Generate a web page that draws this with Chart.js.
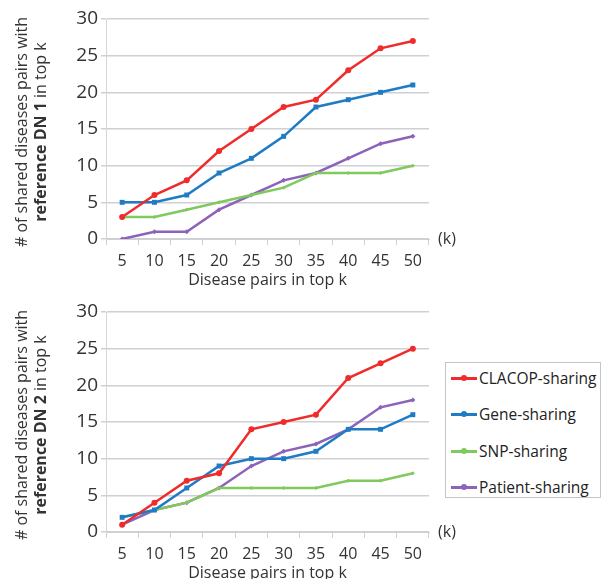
<!DOCTYPE html>
<html>
<head>
<meta charset="utf-8">
<script src="https://cdn.jsdelivr.net/npm/chart.js@4"></script>
<style>
  body { margin: 0; background: #fff; overflow: hidden; width: 606px; height: 579px; position: relative; font-family: "Open Sans", sans-serif; }
  canvas { position: absolute; left: 0; }
  #legenda { position: absolute; left: 445px; top: 362px; width: 156px; height: 136px; border: 1px solid #c4c4c4; box-sizing: border-box; background: #fff; }
  .leg-item { position: absolute; left: 5px; font-size: 15.5px; color: #222; line-height: 18px; white-space: nowrap; }
  .leg-line { display: inline-block; width: 26px; height: 3px; vertical-align: middle; position: relative; margin-right: 2px; top: -1px; }
  .leg-dot { position: absolute; left: 10px; top: -2px; width: 6px; height: 6px; border-radius: 3px; }
</style>
</head>
<body>
<canvas id="grafico-dn1" width="470" height="290" style="top:0"></canvas>
<canvas id="grafico-dn2" width="470" height="293" style="top:290px"></canvas>
<div id="legenda"></div>
<script>
// categorias do eixo x (top k)
const topK = ['5', '10', '15', '20', '25', '30', '35', '40', '45', '50'];
const seriesNames = ['CLACOP-sharing', 'Gene-sharing', 'SNP-sharing', 'Patient-sharing'];

// reference DN 1
const dn1Clacop  = [3, 6, 8, 12, 15, 18, 19, 23, 26, 27];
const dn1Gene    = [5, 5, 6, 9, 11, 14, 18, 19, 20, 21];
const dn1Snp     = [3, 3, 4, 5, 6, 7, 9, 9, 9, 10];
const dn1Patient = [0, 1, 1, 4, 6, 8, 9, 11, 13, 14];

// reference DN 2
const dn2Clacop  = [1, 4, 7, 8, 14, 15, 16, 21, 23, 25];
const dn2Gene    = [2, 3, 6, 9, 10, 10, 11, 14, 14, 16];
const dn2Snp     = [2, 3, 4, 6, 6, 6, 6, 7, 7, 8];
const dn2Patient = [1, 3, 4, 6, 9, 11, 12, 14, 17, 18];

const yTicks = [0, 5, 10, 15, 20, 25, 30];

const cores = ['#ef2b2b', '#1f7bc4', '#80c95c', '#8c63b8'];
const estilos = [
    { pointStyle: 'circle', pointRadius: 3 },
    { pointStyle: 'rect', pointRadius: 3.5 },
    { pointStyle: 'rectRot', pointRadius: 2 },
    { pointStyle: 'rectRot', pointRadius: 2.5 }
];
const FONT = '"Open Sans", sans-serif';

// titulo do eixo y em duas linhas (parte em negrito) + "(k)"
const extrasPlugin = {
    id: 'extras',
    afterDraw(chart, args, opts) {
        const ctx = chart.ctx;
        const a = chart.chartArea;
        const cy = (a.top + a.bottom) / 2 + 3;
        ctx.save();
        ctx.fillStyle = '#333';
        ctx.translate(22, cy);
        ctx.rotate(-Math.PI / 2);
        ctx.textBaseline = 'middle';
        ctx.textAlign = 'center';
        ctx.font = '16px ' + FONT;
        ctx.fillText('# of shared diseases pairs with', 0, 0);
        const bold = 'reference DN ' + opts.dn;
        const normal = ' in top k';
        ctx.font = 'bold 16px ' + FONT;
        const wb = ctx.measureText(bold).width;
        ctx.font = '16px ' + FONT;
        const wn = ctx.measureText(normal).width;
        const x0 = -(wb + wn) / 2;
        ctx.textAlign = 'left';
        ctx.font = 'bold 16px ' + FONT;
        ctx.fillText(bold, x0, 19);
        ctx.font = '16px ' + FONT;
        ctx.fillText(normal, x0 + wb, 19);
        ctx.restore();

        ctx.save();
        ctx.fillStyle = '#333';
        ctx.font = '16px ' + FONT;
        ctx.textBaseline = 'middle';
        ctx.textAlign = 'left';
        ctx.fillText('(k)', a.right + 9, a.bottom);
        ctx.restore();
    }
};

function criaGrafico(id, dn, valores, padTop) {
    const ctx = document.getElementById(id).getContext('2d');
    return new Chart(ctx, {
        type: 'line',
        data: {
            labels: topK,
            datasets: valores.map((v, i) => ({
                label: seriesNames[i],
                data: v,
                borderColor: cores[i],
                backgroundColor: cores[i],
                borderWidth: 2.5,
                pointStyle: estilos[i].pointStyle,
                pointRadius: estilos[i].pointRadius,
                pointBorderWidth: 0,
                tension: 0
            }))
        },
        options: {
            responsive: false,
            animation: false,
            layout: { padding: { top: padTop, right: 41, left: 0, bottom: 0 } },
            plugins: {
                legend: { display: false },
                tooltip: { enabled: false },
                extras: { dn: dn }
            },
            scales: {
                x: {
                    offset: true,
                    afterFit: (s) => { s.height = 51; },
                    grid: { offset: true, drawOnChartArea: false, drawTicks: true, tickLength: 6, color: '#d0d0d0' },
                    border: { color: '#d0d0d0' },
                    ticks: { color: '#333', font: { family: FONT, size: 16 }, padding: 7, maxRotation: 0, autoSkip: false },
                    title: {
                        display: true,
                        text: 'Disease pairs in top k',
                        color: '#333',
                        font: { family: FONT, size: 16 },
                        padding: { top: 0, bottom: 0 }
                    }
                },
                y: {
                    min: 0,
                    max: 30,
                    afterFit: (s) => { s.width = 106; },
                    afterBuildTicks: (s) => { s.ticks = yTicks.map(v => ({ value: v })); },
                    grid: { color: '#cfd0d4', lineWidth: 1.5, drawTicks: true, tickLength: 5 },
                    border: { display: true, color: '#d6d6d6' },
                    ticks: { color: '#333', font: { family: FONT, size: 19 }, padding: 3 }
                }
            }
        },
        plugins: [extrasPlugin]
    });
}

criaGrafico('grafico-dn1', 1, [dn1Clacop, dn1Gene, dn1Snp, dn1Patient], 19);
const g2 = criaGrafico('grafico-dn2', 2, [dn2Clacop, dn2Gene, dn2Snp, dn2Patient], 22);

// legenda ao lado do segundo gráfico
const legenda = document.getElementById('legenda');
const legY = [6, 42, 79, 115];
g2.data.datasets.forEach((ds, i) => {
    legenda.innerHTML += `
        <div class="leg-item" style="top:${legY[i]}px">
            <span class="leg-line" style="background:${ds.borderColor}"><span class="leg-dot" style="background:${ds.borderColor}"></span></span>${ds.label}
        </div>`;
});
</script>
</body>
</html>
